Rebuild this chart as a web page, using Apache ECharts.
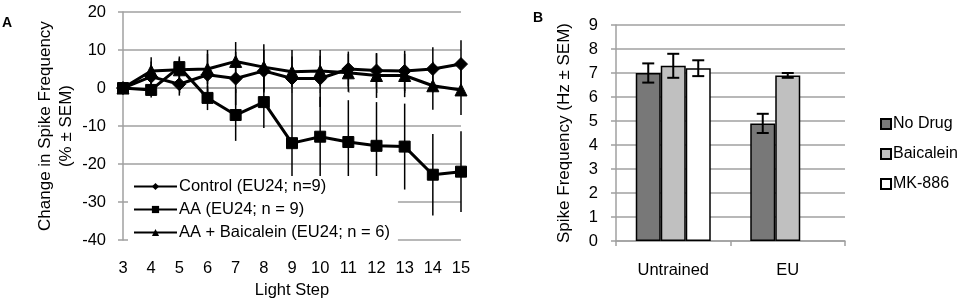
<!DOCTYPE html>
<html>
<head>
<meta charset="utf-8">
<script src="https://cdn.jsdelivr.net/npm/echarts@6/dist/echarts.min.js"></script>
<style>
  html, body { margin: 0; padding: 0; background: #fff; }
  #main { width: 980px; height: 304px; }
</style>
</head>
<body>
<div id="main"></div>
<script>
// panel A: change in spike frequency per light step
const lightSteps = ["3", "4", "5", "6", "7", "8", "9", "10", "11", "12", "13", "14", "15"];
const controlMean = [0, 3, 1, 3.5, 2.5, 4.5, 2.5, 2.5, 5, 4.6, 4.5, 5, 6.3];
const controlSem = [0, 4, 3, 6.5, 7, 5.5, 7.5, 7.5, 4.6, 4.5, 5.3, 5.7, 6.3];
const aaMean = [0, -0.5, 5.5, -2.6, -7.1, -3.7, -14.5, -12.8, -14.2, -15.2, -15.4, -22.8, -22];
const aaSem = [0, 2, 2.8, 3.2, 6.8, 6.8, 9.5, 10.5, 11, 11.5, 11.3, 10.7, 10.6];
const baicMean = [0, 4.5, 4.8, 5, 7, 5.5, 4.3, 4.5, 4, 3.3, 3.3, 0.6, -0.5];
const baicSem = [0, 3.6, 3, 4, 5.1, 6, 4, 4, 5, 5.9, 5.7, 6.3, 6.6];

// panel B: spike frequency per group
const groups = ["Untrained", "EU"];
const noDrug = [7.0, 4.9];
const noDrugSem = [0.4, 0.4];
const baicalein = [7.3, 6.9];
const baicaleinSem = [0.5, 0.1];
const mk886 = [7.2, null];
const mk886Sem = [0.33, null];

const FONT = "Liberation Sans";
const GRID_COLOR = "#a0a0a0";
const BAR_W = 25;

const toRange = (mean, sem) => mean.map((m, i) => (m === null ? null : [i, m - sem[i], m + sem[i]]));

// vertical error lines for panel A (no caps)
const lineErr = (mean, sem) => ({
  type: "custom",
  xAxisIndex: 0,
  yAxisIndex: 0,
  silent: true,
  z: 1,
  data: toRange(mean, sem),
  encode: { x: 0, y: [1, 2] },
  renderItem: (params, api) => {
    const lo = api.coord([api.value(0), api.value(1)]);
    const hi = api.coord([api.value(0), api.value(2)]);
    return {
      type: "line",
      shape: { x1: lo[0], y1: lo[1], x2: hi[0], y2: hi[1] },
      style: { stroke: "#000", lineWidth: 1.5 },
    };
  },
});

// capped error bars for panel B, shifted onto each bar of the group
const barErr = (mean, sem, slot) => ({
  type: "custom",
  xAxisIndex: 1,
  yAxisIndex: 1,
  silent: true,
  z: 5,
  data: toRange(mean, sem).filter((d) => d !== null),
  encode: { x: 0, y: [1, 2] },
  renderItem: (params, api) => {
    const off = (slot - 1) * BAR_W;
    const lo = api.coord([api.value(0), api.value(1)]);
    const hi = api.coord([api.value(0), api.value(2)]);
    const x = lo[0] + off;
    const cap = 6;
    return {
      type: "group",
      children: [
        { type: "line", shape: { x1: x, y1: lo[1], x2: x, y2: hi[1] }, style: { stroke: "#000", lineWidth: 2 } },
        { type: "line", shape: { x1: x - cap, y1: lo[1], x2: x + cap, y2: lo[1] }, style: { stroke: "#000", lineWidth: 2 } },
        { type: "line", shape: { x1: x - cap, y1: hi[1], x2: x + cap, y2: hi[1] }, style: { stroke: "#000", lineWidth: 2 } },
      ],
    };
  },
});

const lineSeries = (name, data, symbol, size) => ({
  name,
  type: "line",
  xAxisIndex: 0,
  yAxisIndex: 0,
  data,
  symbol,
  symbolSize: size,
  showAllSymbol: true,
  z: 3,
  lineStyle: { color: "#000", width: 3 },
  itemStyle: { color: "#000", borderColor: "#000" },
  emphasis: { disabled: true },
});

const barSeries = (name, data, fill) => ({
  name,
  type: "bar",
  xAxisIndex: 1,
  yAxisIndex: 1,
  data,
  barWidth: BAR_W,
  barGap: "0%",
  itemStyle: { color: fill, borderColor: "#000", borderWidth: 1.5 },
  emphasis: { disabled: true },
});

const chart = echarts.init(document.getElementById("main"));
chart.setOption({
  animation: false,
  textStyle: { fontFamily: FONT },
  graphic: [
    { type: "text", left: 2, top: 16, style: { text: "A", font: "bold 14px " + FONT, fill: "#000" } },
    { type: "text", left: 533, top: 11, style: { text: "B", font: "bold 14px " + FONT, fill: "#000" } },
  ],
  grid: [
    { left: 123, top: 12, width: 338, height: 230 },
    { left: 616, top: 25, width: 229, height: 216 },
  ],
  legend: [
    {
      data: ["Control (EU24; n=9)", "AA (EU24; n = 9)", "AA + Baicalein (EU24; n = 6)"],
      orient: "vertical",
      left: 128,
      top: 176,
      itemWidth: 43,
      itemHeight: 9,
      itemGap: 6,
      padding: [2, 8, 2, 5],
      backgroundColor: "#fff",
      textStyle: { fontFamily: FONT, fontSize: 16.5, color: "#000", padding: [0, 0, 0, -3] },
    },
    {
      data: ["No Drug", "Baicalein", "MK-886"],
      orient: "vertical",
      left: 875,
      top: 111,
      icon: "rect",
      itemWidth: 10,
      itemHeight: 10,
      itemGap: 14,
      textStyle: { fontFamily: FONT, fontSize: 16, color: "#000", padding: [0, 0, 0, -3] },
    },
  ],
  xAxis: [
    {
      gridIndex: 0,
      type: "category",
      data: lightSteps,
      boundaryGap: false,
      name: "Light Step",
      nameLocation: "middle",
      nameGap: 41,
      nameTextStyle: { fontFamily: FONT, fontSize: 16.5, color: "#000" },
      axisLine: { lineStyle: { color: GRID_COLOR, width: 1.5 } },
      axisTick: { show: true, length: 5, lineStyle: { color: GRID_COLOR, width: 1.5 } },
      axisLabel: { margin: 20, fontFamily: FONT, fontSize: 16.5, color: "#000", interval: 0 },
      splitLine: { show: false },
    },
    {
      gridIndex: 1,
      type: "category",
      data: groups,
      axisLine: { lineStyle: { color: GRID_COLOR, width: 1.5 } },
      axisTick: { show: true, length: 5, lineStyle: { color: GRID_COLOR, width: 1.5 } },
      axisLabel: { margin: 21, fontFamily: FONT, fontSize: 16.5, color: "#000" },
      splitLine: { show: false },
    },
  ],
  yAxis: [
    {
      gridIndex: 0,
      type: "value",
      min: -40,
      max: 20,
      interval: 10,
      name: "Change in Spike Frequency\n(% ± SEM)",
      nameLocation: "middle",
      nameGap: 46,
      nameTextStyle: { fontFamily: FONT, fontSize: 17, color: "#000", lineHeight: 21 },
      axisLine: { show: true, lineStyle: { color: GRID_COLOR, width: 1.5 } },
      axisTick: { show: true, length: 5, lineStyle: { color: GRID_COLOR, width: 1.5 } },
      axisLabel: { margin: 17, fontFamily: FONT, fontSize: 16.5, color: "#000" },
      splitLine: { lineStyle: { color: GRID_COLOR, width: 1.5 } },
    },
    {
      gridIndex: 1,
      type: "value",
      min: 0,
      max: 9,
      interval: 1,
      name: "Spike Frequency (Hz ± SEM)",
      nameLocation: "middle",
      nameGap: 43,
      nameTextStyle: { fontFamily: FONT, fontSize: 17, color: "#000" },
      axisLine: { show: true, lineStyle: { color: GRID_COLOR, width: 1.5 } },
      axisTick: { show: true, length: 5, lineStyle: { color: GRID_COLOR, width: 1.5 } },
      axisLabel: { margin: 18, fontFamily: FONT, fontSize: 16.5, color: "#000" },
      splitLine: { lineStyle: { color: GRID_COLOR, width: 1.5 } },
    },
  ],
  series: [
    lineErr(controlMean, controlSem),
    lineErr(aaMean, aaSem),
    lineErr(baicMean, baicSem),
    lineSeries("Control (EU24; n=9)", controlMean, "diamond", 13),
    lineSeries("AA (EU24; n = 9)", aaMean, "rect", 11),
    lineSeries("AA + Baicalein (EU24; n = 6)", baicMean, "triangle", 12),
    barSeries("No Drug", noDrug, "#787878"),
    barSeries("Baicalein", baicalein, "#c0c0c0"),
    barSeries("MK-886", mk886, "#ffffff"),
    barErr(noDrug, noDrugSem, 0),
    barErr(baicalein, baicaleinSem, 1),
    barErr(mk886, mk886Sem, 2),
  ],
});
</script>
</body>
</html>
